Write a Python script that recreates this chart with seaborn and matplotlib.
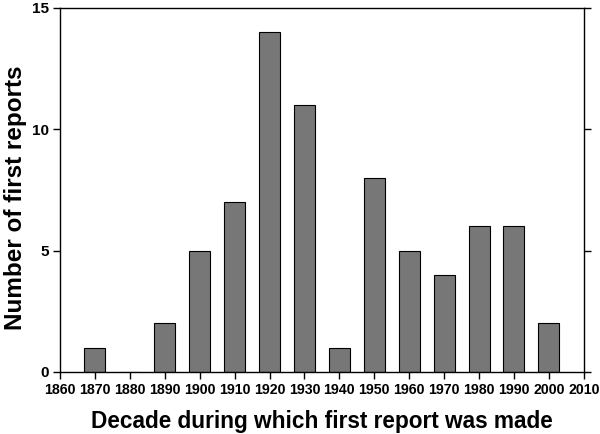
import matplotlib
matplotlib.use("Agg")
import matplotlib.pyplot as plt
import seaborn as sns
import pandas as pd

decades = [1870, 1880, 1890, 1900, 1910, 1920, 1930, 1940, 1950, 1960, 1970, 1980, 1990, 2000]
first_reports = [1, 0, 2, 5, 7, 14, 11, 1, 8, 5, 4, 6, 6, 2]
x_ticks = list(range(1860, 2011, 10))
y_ticks = [0, 5, 10, 15]

sns.set_style("ticks")
plt.rcParams['font.family'] = ['Liberation Sans', 'DejaVu Sans']
plt.rcParams['font.weight'] = 'bold'
plt.rcParams['text.color'] = 'black'
plt.rcParams['axes.labelcolor'] = 'black'

df = pd.DataFrame({"decade": decades, "count": first_reports})

fig = plt.figure(figsize=(6, 4.34), dpi=100)
ax = fig.add_axes([0.1, 0.143, 0.873, 0.8386])

sns.barplot(data=df, x="decade", y="count", native_scale=True, width=0.6,
            color="#777777", saturation=1, edgecolor="black", linewidth=0.8, ax=ax)

ax.set_xlim(1860, 2010)
ax.set_ylim(0, 15)
ax.set_xticks(x_ticks)
ax.set_xticklabels([str(t) for t in x_ticks])
ax.set_yticks(y_ticks)

for s in ax.spines.values():
    s.set_visible(True)
    s.set_linewidth(1.0)
    s.set_color("black")
ax.tick_params(axis="both", direction="out", length=5, width=1.0, labelsize=10.2,
               colors="black", pad=3)
ax.tick_params(axis="y", right=True, labelright=False, labelsize=11)
for lab in ax.get_xticklabels() + ax.get_yticklabels():
    lab.set_fontweight("bold")

ax.set_xlabel("Decade during which first report was made", fontsize=16.3, fontweight="bold", labelpad=9)
ax.set_ylabel("Number of first reports", fontsize=17.5, fontweight="bold")
ax.yaxis.set_label_coords(-0.063, 0.478)

fig.savefig("out.png", dpi=100)
